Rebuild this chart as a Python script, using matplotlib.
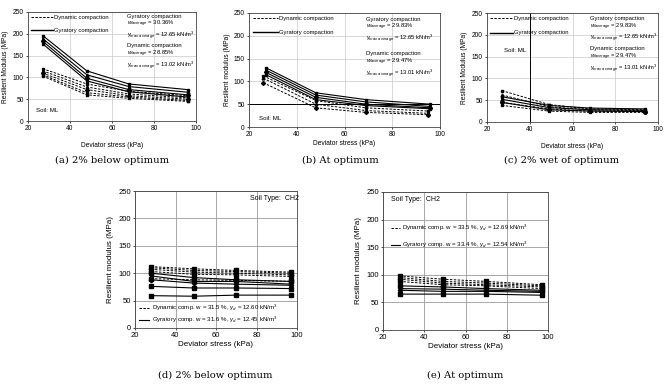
import matplotlib
matplotlib.use("Agg")
import matplotlib.pyplot as plt

plt.rcParams['font.family'] = ['Liberation Sans', 'DejaVu Sans']
plt.rcParams['mathtext.fontset'] = 'custom'
plt.rcParams['mathtext.rm'] = 'Liberation Sans'
plt.rcParams['mathtext.it'] = 'Liberation Sans:italic'
plt.rcParams['mathtext.bf'] = 'Liberation Sans:bold'

W, H = 672, 387

# ---------------- data ----------------
# (a) 2% below optimum, soil ML
a_x_dyn = [27, 48, 68, 96]
a_dyn = [[120, 85, 68, 58], [115, 78, 62, 53], [110, 72, 58, 50], [106, 65, 55, 47], [103, 60, 52, 45]]
a_x_gyr = [27, 48, 68, 96]
a_gyr = [[196, 115, 85, 72], [189, 106, 79, 66], [183, 98, 72, 60], [177, 92, 67, 55]]

# (b) at optimum, soil ML
b_x_dyn = [26, 48, 69, 95]
b_dyn = [[112, 58, 42, 35], [107, 50, 36, 30], [97, 42, 32, 27]]
b_x_gyr = [27, 48, 69, 96]
b_gyr = [[130, 75, 60, 50], [125, 70, 55, 45], [120, 65, 50, 42], [115, 60, 47, 40]]

# (c) 2% wet of optimum, soil ML
c_x_dyn = [27, 49, 68, 94]
c_dyn = [[72, 40, 30, 28], [62, 35, 28, 26], [45, 30, 25, 24], [38, 25, 22, 22]]
c_x_gyr = [27, 49, 68, 94]
c_gyr = [[58, 38, 32, 30], [52, 33, 28, 27], [45, 28, 25, 24]]

# (d) 2% below optimum, CH2
d_x = [28, 49, 70, 97]
d_dyn = [[112, 108, 105, 102], [110, 105, 103, 100], [107, 102, 100, 97], [103, 98, 97, 94], [90, 88, 87, 85]]
d_gyr = [[100, 92, 88, 85], [95, 85, 85, 80], [88, 82, 80, 78], [76, 73, 73, 72], [59, 58, 60, 60]]

# (e) at optimum, CH2
e_x = [28, 49, 70, 97]
e_dyn = [[98, 92, 88, 82], [95, 88, 85, 80], [92, 85, 82, 78], [88, 82, 80, 75]]
e_gyr = [[80, 78, 75, 72], [75, 74, 72, 70], [72, 70, 70, 68], [65, 65, 65, 63]]

captions = ["(a) 2% below optimum", "(b) At optimum", "(c) 2% wet of optimum",
            "(d) 2% below optimum", "(e) At optimum"]
xticks = [20, 40, 60, 80, 100]
yticks = [0, 50, 100, 150, 200, 250]

markers = ['s', '^', 'D', 's', 's']

fig = plt.figure(figsize=(W / 100, H / 100), dpi=100)
fig.patch.set_facecolor('white')


def make_ax(x0, y0, x1, y1):
    ax = fig.add_axes([x0 / W, 1 - y1 / H, (x1 - x0) / W, (y1 - y0) / H])
    ax.set_xlim(20, 100)
    ax.set_ylim(0, 250)
    ax.set_xticks(xticks)
    ax.set_yticks(yticks)
    ax.tick_params(labelsize=4.8, length=1.5, width=0.5, pad=1.5)
    ax.grid(True, color='#c8c8c8', lw=0.5)
    ax.set_axisbelow(True)
    for s in ax.spines.values():
        s.set_linewidth(0.6)
        s.set_color('#444444')
    return ax


def draw(ax, xd, dyn, xg, gyr, ms=2.0):
    for i, ys in enumerate(dyn):
        ax.plot(xd, ys, ls=(0, (2.5, 1.5)), color='black', lw=0.7,
                marker=markers[i % len(markers)], ms=ms)
    for i, ys in enumerate(gyr):
        ax.plot(xg, ys, ls='-', color='black', lw=0.8,
                marker=markers[i % len(markers)], ms=ms)


def ml_legend(ax, y1, y2):
    ax.plot([21.5, 32], [y1, y1], ls=(0, (2.5, 1.5)), color='black', lw=0.7)
    ax.text(32.5, y1, "Dynamic compaction", fontsize=4.2, va='center')
    ax.plot([21.5, 32], [y2, y2], ls='-', color='black', lw=1.0)
    ax.text(32.5, y2, "Gyratory compaction", fontsize=4.2, va='center')


def note_block(ax, x, ytop, title, w, g):
    s = (title + "\n" + r"$w_{average}$ = " + w + "\n"
         + r"$\gamma_{max\ average}$ = " + g + r" kN/m$^3$")
    ax.text(x, ytop, s, fontsize=4.2, va='top', ha='left', linespacing=1.05)


lab_fs = 4.8
cap_font = dict(family='DejaVu Serif', fontsize=7.2)

# (a)
axa = make_ax(28, 12, 196, 121)
draw(axa, a_x_dyn, a_dyn, a_x_gyr, a_gyr)
ml_legend(axa, 238, 208)
note_block(axa, 67, 246, "Gyratory compaction", "30.36%", "12.65")
note_block(axa, 67, 178, "Dynamic compaction", "28.85%", "13.02")
axa.text(24, 20, "Soil: ML", fontsize=4.4)
axa.set_xlabel("Deviator stress (kPa)", fontsize=lab_fs, labelpad=7)
axa.set_ylabel("Resilient Modulus (MPa)", fontsize=lab_fs, labelpad=3)

# (b)
axb = make_ax(249, 13, 440, 127)
draw(axb, b_x_dyn, b_dyn, b_x_gyr, b_gyr)
axb.axhline(50, color='black', lw=0.7)
ml_legend(axb, 238, 208)
note_block(axb, 69, 242, "Gyratory compaction", "29.83%", "12.65")
note_block(axb, 69, 166, "Dynamic compaction", "29.47%", "13.01")
axb.text(24, 15, "Soil: ML", fontsize=4.4)
axb.set_xlabel("Deviator stress (kPa)", fontsize=lab_fs, labelpad=1)
axb.set_ylabel("Resilient modulus (MPa)", fontsize=lab_fs, labelpad=2)

# (c)
axc = make_ax(487, 13, 658, 122)
draw(axc, c_x_dyn, c_dyn, c_x_gyr, c_gyr)
axc.axvline(40, color='black', lw=0.7)
ml_legend(axc, 238, 205)
note_block(axc, 68, 243, "Gyratory compaction", "29.83%", "12.65")
note_block(axc, 68, 174, "Dynamic compaction", "29.47%", "13.01")
axc.text(28, 160, "Soil: ML", fontsize=4.4)
axc.set_xlabel("Deviator stress (kPa)", fontsize=lab_fs, labelpad=7)
axc.set_ylabel("Resilient Modulus (MPa)", fontsize=lab_fs, labelpad=3)

# (d)
axd = make_ax(135, 191, 297, 328)
axd.grid(True, color='#9a9a9a', lw=0.6)
draw(axd, d_x, d_dyn, d_x, d_gyr, ms=2.3)
axd.plot([22, 27], [37, 37], ls=(0, (2.5, 1.5)), color='black', lw=0.7)
axd.text(28.5, 37, r"Dynamic comp. w = 31.5 %, $\gamma_d$ = 12.60 kN/m$^3$", fontsize=4.4, va='center')
axd.plot([22, 27], [15, 15], ls='-', color='black', lw=0.8)
axd.text(28.5, 15, r"Gyratory comp. w = 31.6 %, $\gamma_d$ = 12.45 kN/m$^3$", fontsize=4.4, va='center')
axd.text(77, 236, "Soil Type:  CH2", fontsize=5, va='center')
axd.tick_params(labelsize=5.5)
axd.set_xlabel("Deviator stress (kPa)", fontsize=5.8, labelpad=1)
axd.set_ylabel("Resilient modulus (MPa)", fontsize=5.8, labelpad=3)

# (e)
axe = make_ax(383, 192, 548, 330)
axe.grid(True, color='#9a9a9a', lw=0.6)
draw(axe, e_x, e_dyn, e_x, e_gyr, ms=2.3)
axe.plot([24, 28], [185, 185], ls=(0, (2.5, 1.5)), color='black', lw=0.7)
axe.text(29, 185, r"Dynamic comp. w = 33.5 %, $\gamma_d$ = 12.69 kN/m$^3$", fontsize=4.4, va='center')
axe.plot([24, 28], [154, 154], ls='-', color='black', lw=0.8)
axe.text(29, 154, r"Gyratory comp. w = 33.4 %, $\gamma_d$ = 12.54 kN/m$^3$", fontsize=4.4, va='center')
axe.text(24, 236, "Soil Type:  CH2", fontsize=5, va='center')
axe.tick_params(labelsize=5.5)
axe.set_xlabel("Deviator stress (kPa)", fontsize=5.8, labelpad=1)
axe.set_ylabel("Resilient modulus (MPa)", fontsize=5.8, labelpad=3)

# captions
fig.text(112 / W, 1 - 160 / H, captions[0], ha='center', va='center', **cap_font)
fig.text(340 / W, 1 - 160 / H, captions[1], ha='center', va='center', **cap_font)
fig.text(562 / W, 1 - 160 / H, captions[2], ha='center', va='center', **cap_font)
fig.text(215 / W, 1 - 375 / H, captions[3], ha='center', va='center', **cap_font)
fig.text(465 / W, 1 - 375 / H, captions[4], ha='center', va='center', **cap_font)

fig.savefig("out.png", dpi=100, facecolor='white')
